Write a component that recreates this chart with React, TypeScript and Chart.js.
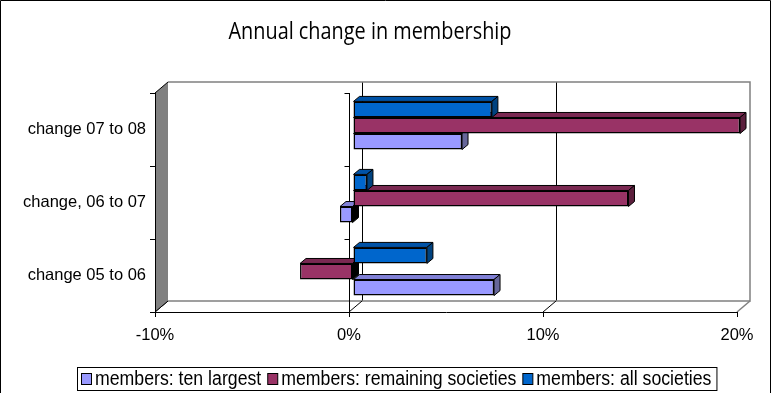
import React, { useEffect, useRef } from "react";
import { Chart, registerables } from "chart.js";

Chart.register(...registerables);

const titleText = "Annual change in membership";
const categories = ["change 07 to 08", "change, 06 to 07", "change 05 to 06"];
const allSocieties = [7.16, 0.72, 3.81];
const remainingSocieties = [19.95, 14.2, -2.73];
const tenLargest = [5.62, -0.67, 7.27];
const xTickValues = [-10, 0, 10, 20];
const seriesNames = ["members: all societies", "members: remaining societies", "members: ten largest"];
const seriesColors = ["#0066CC", "#993366", "#9999FF"];
const topColors = ["#0052A6", "#7A2952", "#8080D6"];
const sideColors = ["#00427F", "#5C1F3D", "#666699"];

const FONT = '"Liberation Sans", Arial, sans-serif';

const DX = 13, DY = -11; // wall depth
const BX = 4, BY = -4; // bar plane offset
const EX = 6, EY = -5; // bar depth

const threeD = {
  id: "threeD",
  beforeDraw(chart: any) {
    const { ctx, chartArea } = chart;
    const { left: L, right: R, top: T, bottom: B } = chartArea;
    const x = chart.scales.x;
    ctx.save();
    ctx.fillStyle = "#fff";
    ctx.fillRect(0, 0, chart.width, chart.height);
    ctx.strokeStyle = "#000";
    ctx.lineWidth = 1;
    xTickValues.forEach((v, i) => {
      if (i === 0 || i === xTickValues.length - 1) return;
      const px = Math.round(x.getPixelForValue(v) + DX) + 0.5;
      ctx.beginPath();
      ctx.moveTo(px, T + DY);
      ctx.lineTo(px, B + DY);
      ctx.stroke();
    });
    ctx.strokeStyle = "#808080";
    ctx.lineWidth = 1.5;
    ctx.beginPath();
    ctx.moveTo(L + DX, T + DY);
    ctx.lineTo(R + DX, T + DY);
    ctx.lineTo(R + DX, B + DY);
    ctx.lineTo(L + DX, B + DY);
    ctx.stroke();
    xTickValues.forEach((v, i) => {
      const px = x.getPixelForValue(v);
      ctx.strokeStyle = i === xTickValues.length - 1 ? "#808080" : "#000";
      ctx.lineWidth = i === xTickValues.length - 1 ? 1.5 : 1;
      ctx.beginPath();
      ctx.moveTo(px, B);
      ctx.lineTo(px + DX, B + DY);
      ctx.stroke();
    });
    ctx.fillStyle = "#808080";
    ctx.beginPath();
    ctx.moveTo(L, T);
    ctx.lineTo(L + DX, T + DY);
    ctx.lineTo(L + DX, B + DY);
    ctx.lineTo(L, B);
    ctx.closePath();
    ctx.fill();
    ctx.strokeStyle = "#000";
    ctx.lineWidth = 1;
    ctx.beginPath();
    ctx.moveTo(L, T);
    ctx.lineTo(L + DX, T + DY);
    ctx.stroke();
    ctx.beginPath();
    ctx.moveTo(L, B);
    ctx.lineTo(L + DX, B + DY);
    ctx.stroke();
    ctx.restore();
  },
  beforeDatasetsDraw(chart: any) {
    const { ctx, chartArea } = chart;
    const { top: T, bottom: B } = chartArea;
    const x0 = Math.round(chart.scales.x.getPixelForValue(0)) + 0.5;
    ctx.save();
    ctx.strokeStyle = "#000";
    ctx.lineWidth = 1;
    ctx.beginPath();
    ctx.moveTo(x0, T);
    ctx.lineTo(x0, B);
    const n = categories.length;
    for (let i = 0; i <= n; i++) {
      const yy = Math.round(T + (i * (B - T)) / n) + 0.5;
      ctx.moveTo(x0 - 5, yy);
      ctx.lineTo(x0, yy);
    }
    ctx.stroke();
    ctx.restore();
    ctx.save();
    ctx.translate(BX, BY);
  },
  beforeDatasetDraw(chart: any, args: any) {
    const { ctx } = chart;
    const idx = args.index;
    const meta = args.meta;
    const values = chart.data.datasets[idx].data;
    ctx.save();
    ctx.strokeStyle = "#000";
    ctx.lineWidth = 1;
    meta.data.forEach((el: any, j: number) => {
      const p = el.getProps(["x", "y", "base", "height"], true);
      const l = Math.min(p.x, p.base);
      const r = Math.max(p.x, p.base);
      const t = p.y - p.height / 2;
      const b = p.y + p.height / 2;
      ctx.fillStyle = topColors[idx];
      ctx.beginPath();
      ctx.moveTo(l, t);
      ctx.lineTo(l + EX, t + EY);
      ctx.lineTo(r + EX, t + EY);
      ctx.lineTo(r, t);
      ctx.closePath();
      ctx.fill();
      ctx.stroke();
      ctx.fillStyle = values[j] < 0 ? "#000" : sideColors[idx];
      ctx.beginPath();
      ctx.moveTo(r, t);
      ctx.lineTo(r + EX, t + EY);
      ctx.lineTo(r + EX, b + EY);
      ctx.lineTo(r, b);
      ctx.closePath();
      ctx.fill();
      ctx.stroke();
    });
    ctx.restore();
  },
  afterDatasetsDraw(chart: any) {
    chart.ctx.restore();
  },
  afterDraw(chart: any) {
    const { ctx } = chart;
    ctx.save();
    ctx.font = '24px "Open Sans", sans-serif';
    const tw = ctx.measureText(titleText).width;
    ctx.translate(370, 39);
    ctx.scale(283 / tw, 1);
    ctx.textAlign = "center";
    ctx.textBaseline = "alphabetic";
    ctx.fillStyle = "#000";
    ctx.fillText(titleText, 0, 0);
    ctx.restore();

    // legend (reverse order of datasets)
    ctx.save();
    ctx.font = "20px " + FONT;
    ctx.textBaseline = "middle";
    ctx.textAlign = "left";
    const SX = 0.885;
    const boxL = 77, boxT = 367, boxH = 23;
    const cy = boxT + boxH / 2 + 1;
    let cx = boxL + 4;
    const order = [2, 1, 0];
    order.forEach((k, n) => {
      const name = seriesNames[k];
      ctx.fillStyle = seriesColors[k];
      ctx.fillRect(cx + 0.5, cy - 6, 10, 11);
      ctx.strokeStyle = "#000";
      ctx.lineWidth = 1;
      ctx.strokeRect(cx + 0.5, cy - 6, 10, 11);
      ctx.fillStyle = "#000";
      ctx.save();
      ctx.translate(cx + 14, cy);
      ctx.scale(SX, 1);
      ctx.fillText(name, 0, 0);
      ctx.restore();
      cx += 14 + ctx.measureText(name).width * SX + (n < order.length - 1 ? 6 : 5);
    });
    ctx.strokeStyle = "#000";
    ctx.lineWidth = 1;
    ctx.strokeRect(boxL + 0.5, boxT + 0.5, cx - boxL, boxH);
    ctx.beginPath();
    ctx.moveTo(0.5, chart.height);
    ctx.lineTo(0.5, 0.5);
    ctx.lineTo(chart.width - 1.5, 0.5);
    ctx.lineTo(chart.width - 1.5, chart.height);
    ctx.stroke();
    ctx.restore();
  },
};

export default function App() {
  const ref = useRef<HTMLCanvasElement | null>(null);
  useEffect(() => {
    const canvas = ref.current!;
    const seriesData = [allSocieties, remainingSocieties, tenLargest];
    const chart = new Chart(canvas, {
      type: "bar",
      data: {
        labels: categories,
        datasets: seriesData.map((d, i) => ({
          label: seriesNames[i],
          data: d,
          backgroundColor: seriesColors[i],
          borderColor: "#000",
          borderWidth: 1.5,
          borderSkipped: false,
          clip: false as any,
          categoryPercentage: 0.66,
          barPercentage: 1,
        })),
      },
      options: {
        indexAxis: "y",
        responsive: false,
        animation: false,
        events: [],
        layout: { padding: { left: 0, top: 93, right: 35, bottom: 0 } },
        plugins: {
          legend: { display: false },
          title: { display: false },
          tooltip: { enabled: false },
        },
        scales: {
          x: {
            type: "linear",
            min: -10,
            max: 20,
            afterBuildTicks: (s: any) => {
              s.ticks = xTickValues.map((v) => ({ value: v }));
            },
            afterFit: (s: any) => {
              s.height = 81;
            },
            ticks: {
              callback: (v: any) => v + "%",
              font: { family: FONT, size: 16.5 },
              color: "#000",
              padding: 9,
              maxRotation: 0,
              autoSkip: false,
            },
            grid: { drawOnChartArea: false, drawTicks: true, tickLength: 5, color: "#000" },
            border: { color: "#000" },
          },
          y: {
            afterFit: (s: any) => {
              s.width = 155;
            },
            ticks: {
              font: { family: FONT, size: 16.5 },
              color: "#000",
              padding: 4,
            },
            grid: { drawOnChartArea: false, drawTicks: true, tickLength: 5, color: "#000", offset: true },
            border: { color: "#000" },
          },
        },
      },
      plugins: [threeD],
    });
    return () => chart.destroy();
  }, []);
  return (
    <div style={{ position: "fixed", left: 0, top: 0, width: 772, height: 393, background: "#fff" }}>
      <canvas ref={ref} width={772} height={393} style={{ display: "block" }} />
    </div>
  );
}
